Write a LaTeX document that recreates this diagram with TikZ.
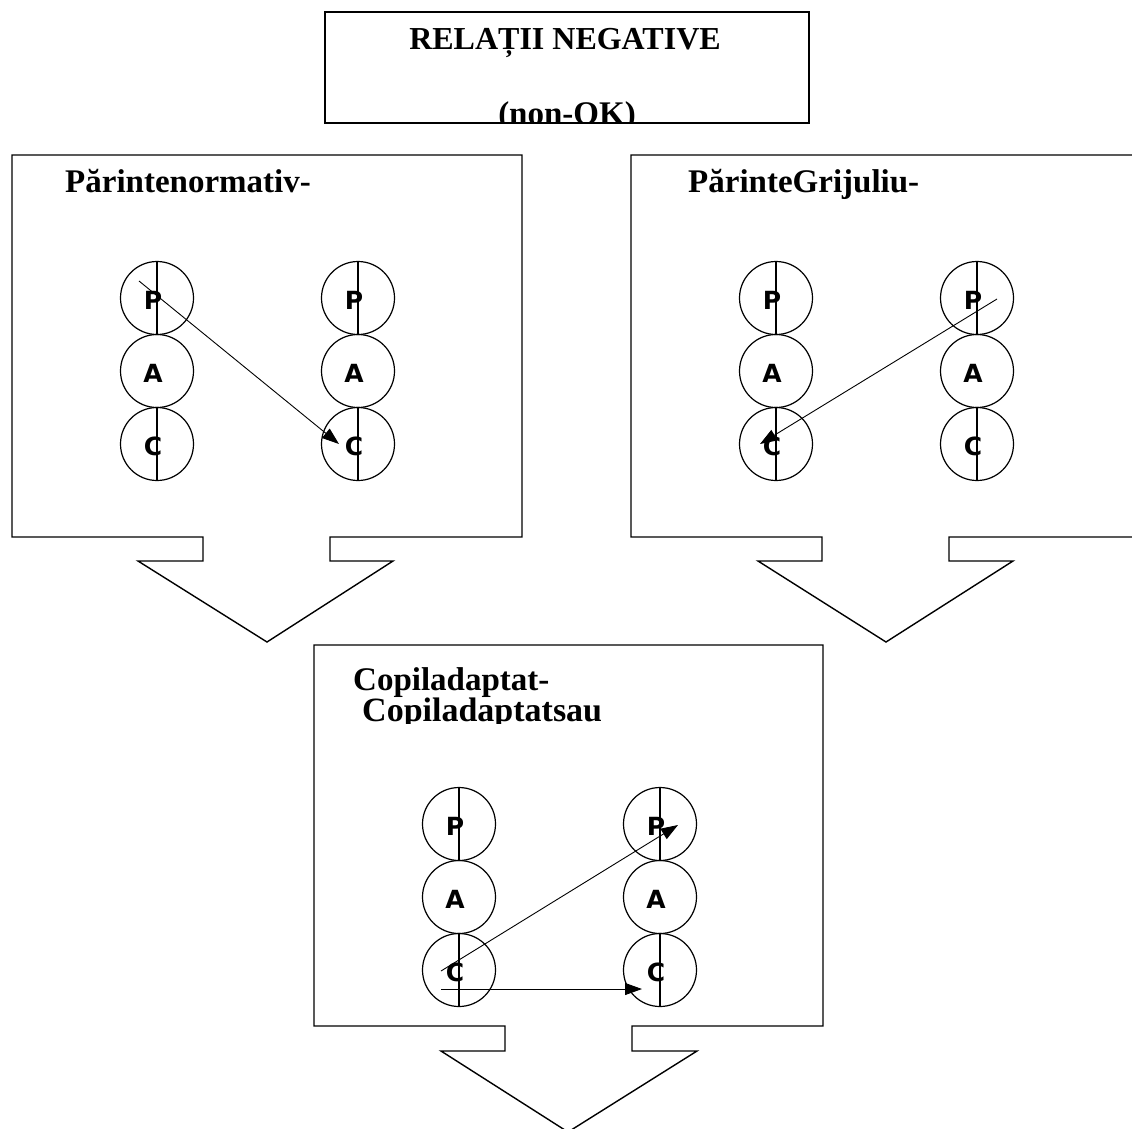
\documentclass[tikz,border=0pt]{standalone}
\usepackage{fontspec}
\setmainfont{Liberation Serif}
\setsansfont{DejaVu Sans}
\usetikzlibrary{arrows.meta}

\tikzset{
  ego/.style={circle,draw,line width=1.2pt,minimum size=73pt,inner sep=0pt},
  stare/.style={font=\sffamily\bfseries\fontsize{25}{25}\selectfont,xshift=-4pt,yshift=-2pt},
  panel/.style={draw,line width=1.4pt,line join=miter},
  heading/.style={font=\bfseries\fontsize{33}{33}\selectfont,inner sep=0pt},
  link/.style={line width=0.9pt,-{Triangle[length=17pt,width=12pt]}},
}

\begin{document}
\begin{tikzpicture}[x=1pt,y=-1pt]

    \useasboundingbox (0,0) rectangle (1132,1128);
    \clip (0,0) rectangle (1132,1128);

    % Title box
    \draw [panel] (325,12) rectangle (809,123);
    \node [heading,font=\bfseries\fontsize{32}{32}\selectfont,anchor=base] (title) at (565,49) {RELAȚII NEGATIVE};
    \begin{scope}
      \clip (325,12) rectangle (809,123);
      \node [heading,anchor=base] (nonok) at (567,124) {(non-OK)};
    \end{scope}

    % Left panel with its block arrow
    \draw [panel] (12,155) -- (522,155) -- (522,537) -- (330,537) -- (330,561) -- (393,561)
        -- (267,642) -- (138,561) -- (203,561) -- (203,537) -- (12,537) -- cycle;
    \node [heading,anchor=base west] (normativ) at (65,192) {Părintenormativ-};

    % Right panel with its block arrow
    \draw [panel] (631,155) -- (1140,155) -- (1140,537) -- (949,537) -- (949,561) -- (1013,561)
        -- (886,642) -- (758,561) -- (822,561) -- (822,537) -- (631,537) -- cycle;
    \node [heading,anchor=base west] (grijuliu) at (688,192) {PărinteGrijuliu-};

    % Bottom panel with its block arrow
    \draw [panel] (314,645) -- (823,645) -- (823,1026) -- (632,1026) -- (632,1051) -- (697,1051)
        -- (568,1132) -- (441,1051) -- (505,1051) -- (505,1026) -- (314,1026) -- cycle;
    \begin{scope}
      \clip (314,645) rectangle (823,723);
      \node [heading,anchor=base west] (copil1) at (353,690) {Copiladaptat-};
      \node [heading,font=\bfseries\fontsize{34}{34}\selectfont,anchor=base west] (copil2) at (362,721) {Copiladaptatsau};
    \end{scope}

    % P-A-C stacks
    \foreach \pn/\x/\y in {n1/157/298, n2/358/298, g1/776/298, g2/977/298, c1/459/824, c2/660/824} {
      \node [ego,label={[stare]center:P}] (\pn p) at (\x,\y) {};
      \node [ego,label={[stare]center:A}] (\pn a) at (\x,\y+73) {};
      \node [ego,label={[stare]center:C}] (\pn c) at (\x,\y+146) {};
      \draw [line width=1.2pt] (\pn p.north) -- (\pn p.south);
      \draw [line width=1.2pt] (\pn c.north) -- (\pn c.south);
    }

    % Transactions
    \coordinate (n-from) at (139,281);
    \coordinate (n-to) at (339,444);
    \draw [link] (n-from) -- (n-to);

    \coordinate (g-from) at (997,299);
    \coordinate (g-to) at (760,444);
    \draw [link] (g-from) -- (g-to);

    \coordinate (c-from1) at (441,971);
    \coordinate (c-to1) at (678,825);
    \draw [link] (c-from1) -- (c-to1);

    \coordinate (c-from2) at (441,989);
    \coordinate (c-to2) at (642,989);
    \draw [link] (c-from2) -- (c-to2);

\end{tikzpicture}
\end{document}
